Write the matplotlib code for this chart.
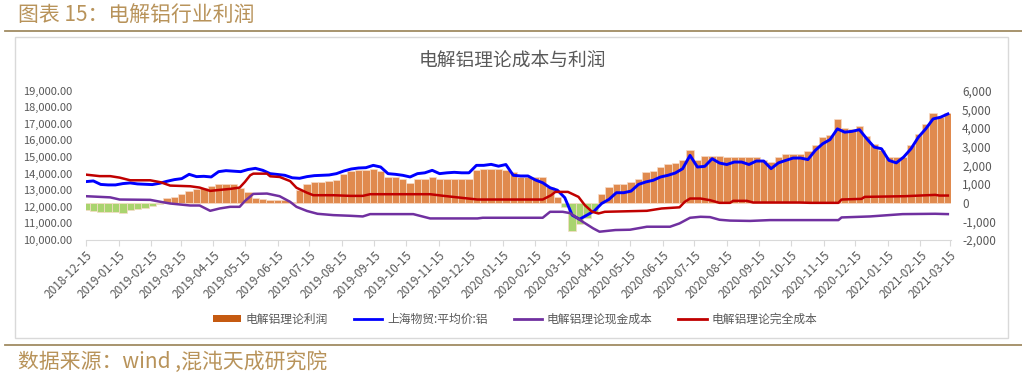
import numpy as np
import pandas as pd
import matplotlib
matplotlib.use('Agg')
import matplotlib.pyplot as plt
from matplotlib.patches import Rectangle, Patch
from matplotlib.lines import Line2D

plt.rcParams['font.family'] = ['Noto Sans CJK SC', 'DejaVu Sans']

# weekly samples
weeks = pd.date_range('2018-12-15', periods=118, freq='7D')

profit = [-400, -420, -480, -500, -520, -540, -380, -330, -300, -200,
          -60, 250, 320, 480, 650, 720, 760, 900, 1000, 1020,
          1000, 780, 560, 230, 200, 150, 130, 120, 60, 700,
          1020, 1100, 1110, 1150, 1200, 1560, 1700, 1730, 1760, 1800,
          1700, 1380, 1380, 1250, 1050, 1290, 1290, 1380, 1250, 1250,
          1260, 1260, 1250, 1740, 1830, 1830, 1830, 1750, 1650, 1380,
          1380, 1380, 1380, 840, 300, -250, -1500, -1150, -840, -490,
          480, 840, 1020, 1020, 1100, 1290, 1650, 1700, 1900, 2090,
          2150, 2300, 2800, 2270, 2480, 2480, 2480, 2450, 2440, 2440,
          2440, 2440, 2300, 2180, 2440, 2590, 2590, 2600, 2750, 3100,
          3500, 3650, 4500, 4000, 3950, 4100, 3550, 3160, 2800, 2430,
          2430, 2450, 3100, 3690, 4220, 4800, 4600, 4800]

price = [13520, 13560, 13350, 13320, 13320, 13400, 13440, 13380, 13360, 13340,
         13420, 13540, 13640, 13700, 13960, 13820, 13840, 13800, 14120, 14180,
         14150, 14120, 14250, 14320, 14200, 14000, 13950, 13900, 13750, 13720,
         13820, 13880, 13900, 13920, 14000, 14160, 14280, 14340, 14360, 14500,
         14400, 14000, 13960, 13900, 13800, 14000, 14050, 14200, 14000, 14050,
         14080, 14050, 14050, 14500, 14500, 14560, 14450, 14550, 13900, 13860,
         13860, 13620, 13450, 13150, 13000, 12550, 11500, 11250, 11500, 11750,
         12200, 12450, 12850, 12850, 12950, 13350, 13500, 13600, 13800, 13900,
         14040, 14300, 15100, 14400, 14440, 14900, 14640, 14550, 14700, 14700,
         14550, 14760, 14760, 14300, 14650, 14800, 14940, 14940, 14850, 15400,
         15800, 16050, 16700, 16500, 16550, 16650, 16100, 15600, 15500, 14800,
         14650, 15000, 15500, 16200, 16700, 17300, 17400, 17600]

full_dates = pd.to_datetime([
    '2018-12-15', '2018-12-28', '2019-01-07', '2019-01-16', '2019-01-26', '2019-02-14',
    '2019-02-24', '2019-03-05', '2019-03-24', '2019-04-02', '2019-04-12', '2019-04-21',
    '2019-05-01', '2019-05-10', '2019-05-15', '2019-05-20', '2019-05-23', '2019-06-05',
    '2019-06-08', '2019-06-17', '2019-06-27', '2019-07-03', '2019-07-13', '2019-07-19',
    '2019-08-07', '2019-08-23', '2019-09-04', '2019-09-11', '2019-11-07', '2019-11-20',
    '2019-12-22', '2020-02-22', '2020-03-01', '2020-03-05', '2020-03-17', '2020-03-27',
    '2020-04-02', '2020-04-09', '2020-04-15', '2020-04-21', '2020-05-31', '2020-06-14',
    '2020-07-01', '2020-07-06', '2020-07-11', '2020-07-21', '2020-07-30', '2020-08-08',
    '2020-08-18', '2020-08-21', '2020-09-03', '2020-09-09', '2020-10-23', '2020-11-02',
    '2020-11-29', '2020-12-02', '2020-12-21', '2020-12-24', '2021-01-31', '2021-03-01',
    '2021-03-05', '2021-03-13'])
full_cost = [13940, 13850, 13850, 13760, 13600, 13600,
             13480, 13280, 13240, 13160, 12960, 13020,
             13080, 13160, 13500, 13900, 14000, 14000,
             13840, 13800, 13550, 13150, 12850, 12700,
             12700, 12660, 12660, 12760, 12760, 12660,
             12440, 12440, 12700, 12900, 12900, 12600,
             12100, 11700, 11600, 11700, 11760, 11900,
             11970, 12300, 12500, 12500, 12400, 12240,
             12240, 12360, 12360, 12260, 12260, 12240,
             12240, 12440, 12480, 12600, 12640, 12720,
             12680, 12680]

cash_dates = pd.to_datetime([
    '2018-12-15', '2019-01-07', '2019-01-16', '2019-02-14', '2019-02-24', '2019-03-05',
    '2019-03-24', '2019-04-02', '2019-04-12', '2019-04-21', '2019-05-01', '2019-05-10',
    '2019-05-15', '2019-05-23', '2019-06-05', '2019-06-17', '2019-06-27', '2019-07-03',
    '2019-07-13', '2019-07-23', '2019-08-07', '2019-08-23', '2019-09-04', '2019-09-11',
    '2019-10-22', '2019-11-07', '2019-12-22', '2019-12-27', '2020-02-22', '2020-02-29',
    '2020-03-12', '2020-03-19', '2020-03-31', '2020-04-10', '2020-04-16', '2020-05-01',
    '2020-05-15', '2020-05-31', '2020-06-22', '2020-07-01', '2020-07-11', '2020-07-21',
    '2020-07-30', '2020-08-08', '2020-08-18', '2020-09-06', '2020-09-25', '2020-11-29',
    '2020-12-02', '2020-12-29', '2021-01-29', '2021-03-01', '2021-03-13'])
cash_cost = [12640, 12570, 12440, 12420, 12300, 12200,
             12080, 12080, 11760, 11900, 12000, 12000,
             12350, 12780, 12800, 12640, 12300, 12000,
             11750, 11580, 11500, 11460, 11420, 11560,
             11560, 11300, 11300, 11340, 11340, 11700,
             11700, 11620, 11100, 10700, 10500, 10600,
             10620, 10800, 10800, 11000, 11340, 11400,
             11380, 11220, 11170, 11150, 11200, 11200,
             11360, 11420, 11560, 11580, 11560]

tick_dates = pd.date_range('2018-12-01', '2021-03-15', freq='MS') + pd.Timedelta(days=14)
left_ticks = np.arange(10000, 19001, 1000)
right_ticks = np.arange(-2000, 6001, 1000)

W, H = 1022, 381
fig = plt.figure(figsize=(W / 100, H / 100), dpi=100)

grey = '#595959'
tan = '#B8935A'

# header / footer
fig.text(18 / W, 1 - 16 / H, '图表 15：电解铝行业利润', fontsize=15, color=tan, va='center')
fig.add_artist(Line2D([5 / W, 1], [1 - 31 / H] * 2, color='#A08B62', lw=1.3))
fig.add_artist(Line2D([5 / W, 1], [1 - 345 / H] * 2, color='#A08B62', lw=1.3))
fig.text(18 / W, 1 - 362 / H, '数据来源：wind ,混沌天成研究院', fontsize=15, color=tan, va='center')
fig.add_artist(Rectangle((15 / W, 1 - 338 / H), (1008 - 15) / W, (338 - 37) / H,
                         fill=False, edgecolor='#D9D9D9', lw=1))
fig.text(512 / W, 1 - 60 / H, '电解铝理论成本与利润', fontsize=13.5, color=grey, ha='center', va='center')

ax = fig.add_axes([86 / W, 1 - 240 / H, (951 - 86) / W, (240 - 90.7) / H])
ax2 = ax.twinx()

# bars on the right-hand scale, drawn underneath
bar_colors = ['#E08A4E' if v >= 0 else '#A9D46F' for v in profit]
ax.bar(weeks, profit, width=7, color=bar_colors, edgecolor='#F7DCC8', linewidth=0.5)
ax.set_ylim(-2000, 6000)
ax.set_yticks(right_ticks)
ax.set_yticklabels([f'{v:,}' for v in right_ticks])
ax.yaxis.tick_right()

# lines on the left-hand scale
ax2.plot(weeks, price, color='#0000FF', lw=2.1)
ax2.plot(cash_dates, cash_cost, color='#7030A0', lw=1.8)
ax2.plot(full_dates, full_cost, color='#C00000', lw=1.8)
ax2.set_ylim(10000, 19000)
ax2.set_yticks(left_ticks)
ax2.set_yticklabels([f'{v:,.2f}' for v in left_ticks])
ax2.yaxis.tick_left()

ax.set_xlim(pd.Timestamp('2018-12-15'), pd.Timestamp('2021-03-16'))
ax.set_xticks(tick_dates)
ax.set_xticklabels([d.strftime('%Y-%m-%d') for d in tick_dates], rotation=45,
                   ha='right', rotation_mode='anchor', fontsize=8.5, color=grey)

for a in (ax, ax2):
    for s in a.spines.values():
        s.set_visible(False)
    a.tick_params(axis='y', length=0, labelcolor=grey)
ax.tick_params(axis='y', pad=8, labelsize=8.5)
ax2.tick_params(axis='y', pad=10, labelsize=8)
ax.spines['bottom'].set_visible(True)
ax.spines['bottom'].set_color('#D9D9D9')
ax.tick_params(axis='x', length=4, color='#D9D9D9', pad=2)

handles = [Patch(facecolor='#C55A11', edgecolor='none'),
           Line2D([], [], color='#0000FF', lw=2),
           Line2D([], [], color='#7030A0', lw=2),
           Line2D([], [], color='#C00000', lw=2)]
labels = ['电解铝理论利润', '上海物贸:平均价:铝', '电解铝理论现金成本', '电解铝理论完全成本']
fig.legend(handles, labels, loc='center', bbox_to_anchor=(515 / W, 1 - 319 / H), ncol=4,
           frameon=False, fontsize=8.5, handlelength=2.4, handleheight=0.6,
           handletextpad=0.4, columnspacing=2.2, labelcolor=grey)

fig.savefig('out.png', dpi=100)
